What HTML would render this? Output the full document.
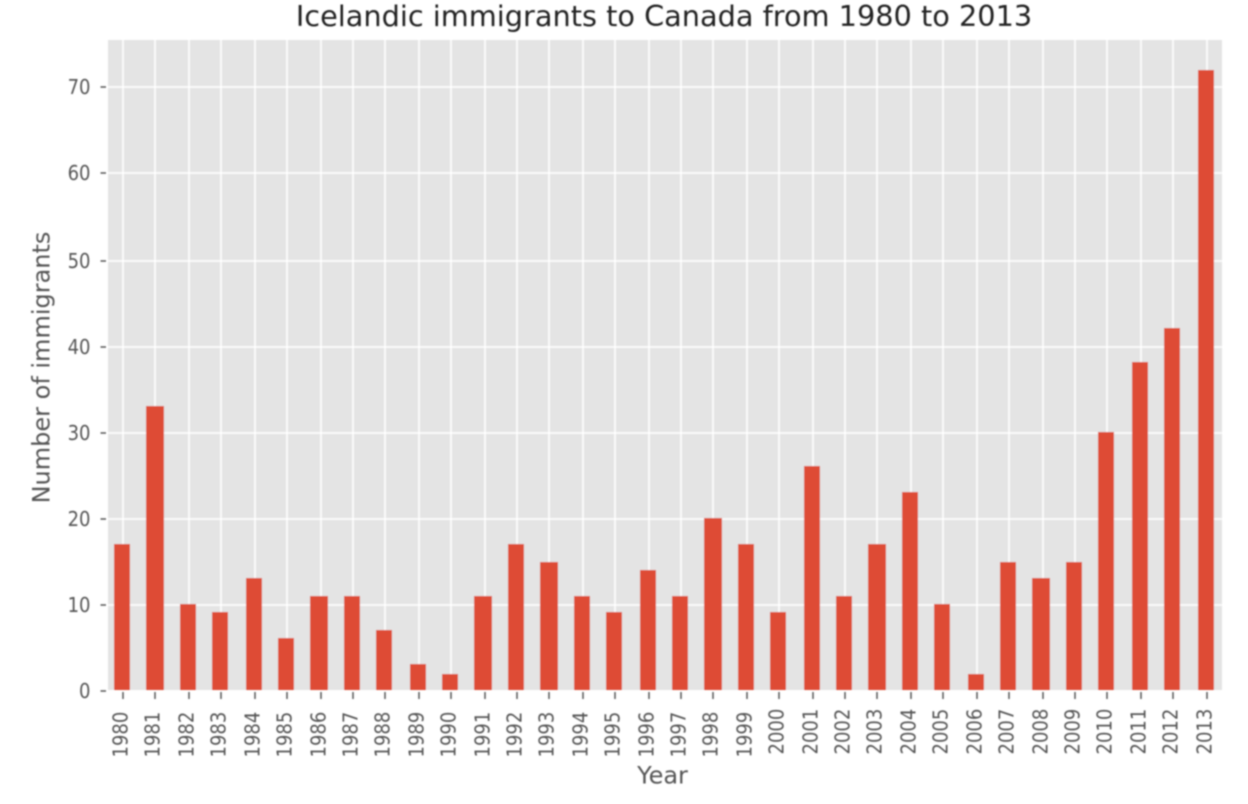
<!DOCTYPE html>
<html>
<head>
<meta charset="utf-8">
<style>
html,body{margin:0;padding:0;background:#fff;width:1248px;height:804px;overflow:hidden}
svg{display:block;font-family:"DejaVu Sans",sans-serif}
</style>
</head>
<body>
<svg id="chart" width="1248" height="804" viewBox="0 0 1248 804">
<defs><filter id="soft" x="-5%" y="-5%" width="110%" height="110%"><feGaussianBlur stdDeviation="0.7"/></filter></defs>
<g id="root" filter="url(#soft)">
<rect x="108" y="40" width="1114" height="650" fill="#e4e4e4"/>
<g id="grid"></g>
<g id="bars"></g>
<g id="ticks"></g>
<text x="664" y="26" text-anchor="middle" font-size="28.76" fill="#222">Icelandic immigrants to Canada from 1980 to 2013</text>
<text x="662.5" y="783.5" text-anchor="middle" font-size="24" fill="#555">Year</text>
<text transform="translate(49.5,367.5) rotate(-90)" text-anchor="middle" font-size="24" fill="#555">Number of immigrants</text>
</g>
</svg>
<script>
const years = [1980,1981,1982,1983,1984,1985,1986,1987,1988,1989,1990,1991,1992,1993,1994,1995,1996,1997,1998,1999,2000,2001,2002,2003,2004,2005,2006,2007,2008,2009,2010,2011,2012,2013];
const immigrants = [17,33,10,9,13,6,11,11,7,3,2,11,17,15,11,9,14,11,20,17,9,26,11,17,23,10,2,15,13,15,30,38,42,72];
const yTicks = [0,10,20,30,40,50,60,70];

const NS = 'http://www.w3.org/2000/svg';
// axis functions work in the chart's native pixel grid, which is displayed at 2x
const snap = v => 2 * Math.round(v);
const barLeft = i => snap(56.98 + 16.41 * i);
const barRight = i => snap(65.19 + 16.41 * i);
const xTick = i => 2 * Math.floor(61.55 + 16.41 * i) + 1;
const barTop = v => snap(345.15 - 4.307 * v);
const yTick = v => 2 * Math.floor(345.4 - 4.307 * v) + 1;

const gridG = document.getElementById('grid');
const barsG = document.getElementById('bars');
const ticksG = document.getElementById('ticks');

function mk(tag, attrs, parent, text) {
  const el = document.createElementNS(NS, tag);
  for (const k in attrs) el.setAttribute(k, attrs[k]);
  if (text !== undefined) el.textContent = text;
  parent.appendChild(el);
  return el;
}

yTicks.forEach(t => {
  const y = yTick(t);
  if (t > 0) {
    const line = mk('line', {x1:108, x2:1222, y1:y, y2:y, stroke:'#fff', 'stroke-width':1.6}, gridG);
    
    
  }
  const tick = mk('line', {x1:100.5, x2:106, y1:y, y2:y, stroke:'#555', 'stroke-width':1.5}, ticksG);
  
  
  const label = mk('text', {transform:'translate(90.5,' + (y + 7) + ') scale(1,1.15)', 'text-anchor':'end', 'font-size':18, fill:'#555'}, ticksG, t);
  
  
});

years.forEach((yr, i) => {
  const x = xTick(i);
  const line = mk('line', {x1:x, x2:x, y1:40, y2:690, stroke:'#fff', 'stroke-width':1.6}, gridG);
  
  
  const top = barTop(immigrants[i]);
  const bar = mk('rect', {x:barLeft(i), y:top, width:barRight(i) - barLeft(i), height:690 - top, fill:'#de4c36'}, barsG);
  
  
  const tick = mk('line', {x1:x, x2:x, y1:692, y2:699, stroke:'#555', 'stroke-width':1.5}, ticksG);
  
  
  const start = yr < 2000 ? 757.5 : 754.5;
  const label = mk('text', {transform:'translate(' + (x + 4.5) + ',' + start + ') rotate(-90) scale(1,1.15)', 'font-size':18, fill:'#555'}, ticksG, yr);
  
  
});
</script>
</body>
</html>
